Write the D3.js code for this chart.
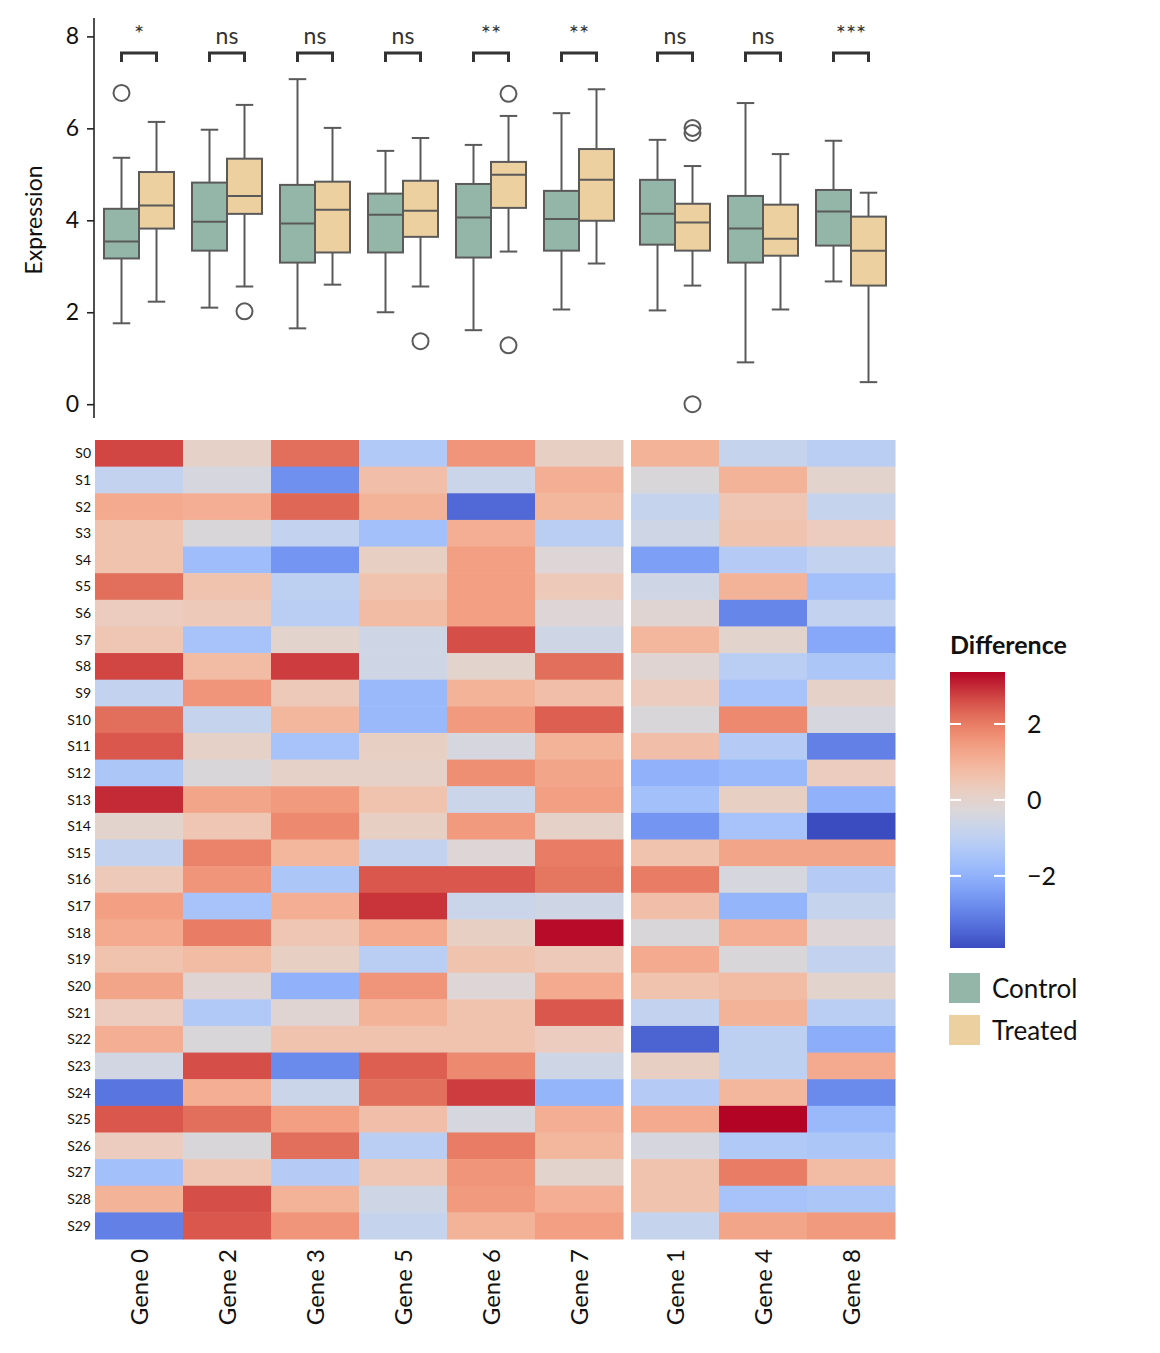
<!DOCTYPE html>
<html><head><meta charset="utf-8">
<script src="https://cdn.jsdelivr.net/npm/d3@7"></script>
<style>body{margin:0;background:#fff}text{font-family:Lato,"Open Sans",sans-serif}</style>
</head><body><svg id="c" width="1160" height="1353"></svg>
<script>
const genes = ["Gene 0","Gene 2","Gene 3","Gene 5","Gene 6","Gene 7","Gene 1","Gene 4","Gene 8"];
const groupA = ["Gene 0","Gene 2","Gene 3","Gene 5","Gene 6","Gene 7"];
const sigLabels = ["*","ns","ns","ns","**","**","ns","ns","***"];
// [low, q1, median, q3, high]
const controlStats = [
 [1.76,3.17,3.54,4.25,5.36],[2.10,3.34,3.97,4.82,5.97],[1.65,3.08,3.93,4.77,7.07],
 [2.00,3.30,4.12,4.58,5.51],[1.61,3.19,4.06,4.79,5.64],[2.06,3.34,4.03,4.64,6.33],
 [2.04,3.47,4.14,4.88,5.75],[0.91,3.08,3.82,4.53,6.55],[2.67,3.45,4.19,4.66,5.73]];
const treatedStats = [
 [2.23,3.82,4.32,5.05,6.14],[2.56,4.14,4.53,5.34,6.51],[2.60,3.30,4.23,4.84,6.01],
 [2.56,3.64,4.21,4.86,5.79],[3.32,4.27,4.99,5.27,6.27],[3.06,3.99,4.88,5.55,6.85],
 [2.58,3.34,3.95,4.36,5.18],[2.06,3.23,3.60,4.34,5.44],[0.48,2.58,3.34,4.08,4.60]];
const controlOutliers = [[6.77],[],[],[],[],[],[],[],[]];
const treatedOutliers = [[],[2.02],[],[1.37],[6.75,1.28],[],[6.01,5.90,0.0],[],[]];
const samples = d3.range(30).map(i=>"S"+i);
const diff = [
 [2.7,0.1,2.2,-1.3,1.6,0.2,1.0,-0.8,-1.1],
 [-0.9,-0.4,-2.7,0.7,-0.7,1.1,-0.3,1.0,0.0],
 [1.2,1.1,2.3,1.0,-3.4,0.9,-0.8,0.5,-0.8],
 [0.6,-0.3,-0.9,-1.6,1.1,-1.1,-0.6,0.6,0.3],
 [0.6,-1.7,-2.6,0.2,1.4,-0.2,-2.4,-1.2,-0.9],
 [2.2,0.6,-1.0,0.6,1.4,0.4,-0.6,1.0,-1.6],
 [0.3,0.4,-1.1,0.8,1.4,-0.2,-0.1,-2.9,-0.9],
 [0.5,-1.5,0.0,-0.6,2.6,-0.6,0.9,0.0,-2.2],
 [2.7,0.8,2.8,-0.6,0.0,2.2,-0.1,-1.1,-1.4],
 [-0.9,1.6,0.4,-1.8,1.0,0.7,0.3,-1.5,0.1],
 [2.2,-0.8,0.9,-1.8,1.5,2.4,-0.3,1.8,-0.4],
 [2.5,0.1,-1.5,0.2,-0.4,1.0,0.7,-1.2,-3.0],
 [-1.4,-0.3,0.1,0.1,1.7,1.3,-2.0,-1.8,0.3],
 [3.0,1.3,1.5,0.6,-0.7,1.4,-1.6,0.2,-2.0],
 [0.0,0.5,1.8,0.2,1.5,0.1,-2.6,-1.5,-3.9],
 [-0.9,1.9,0.9,-0.9,-0.2,2.0,0.6,1.3,1.3],
 [0.4,1.6,-1.4,2.5,2.5,2.1,2.0,-0.4,-1.2],
 [1.4,-1.5,1.1,2.9,-0.7,-0.6,0.7,-1.9,-0.8],
 [1.2,2.0,0.5,1.2,0.2,3.3,-0.3,1.1,-0.2],
 [0.6,0.8,0.2,-1.1,0.6,0.4,1.2,-0.3,-0.9],
 [1.3,-0.1,-2.0,1.6,-0.2,1.2,0.6,0.8,0.0],
 [0.3,-1.3,-0.1,1.0,0.6,2.5,-0.9,1.0,-1.1],
 [1.1,-0.3,0.6,0.6,0.6,0.3,-3.5,-1.0,-2.1],
 [-0.5,2.6,-2.8,2.4,1.8,-0.6,0.2,-1.0,1.2],
 [-3.2,1.1,-0.7,2.2,2.8,-1.9,-1.2,0.9,-2.8],
 [2.5,2.2,1.4,0.7,-0.4,1.1,1.2,3.37,-1.8],
 [0.3,-0.3,2.2,-1.1,2.0,0.9,-0.4,-1.3,-1.4],
 [-1.6,0.5,-1.2,0.5,1.6,0.0,0.6,2.0,0.8],
 [1.0,2.6,1.0,-0.6,1.5,1.1,0.6,-1.5,-1.4],
 [-3.0,2.5,1.6,-0.8,1.0,1.4,-0.8,1.3,1.5]];
const colorDomain = [-3.9, 3.37];
const groupColors = {Control:"#93b6a9", Treated:"#edd09f"};

const svg = d3.select("#c");
const coolwarm = d3.interpolateRgbBasis(["#3b4cc0","#6282ea","#8db0fe","#b7cff9","#dddcdc","#f5c4ac","#f49a7b","#dd604d","#b40426"]);
const color = d3.scaleSequential(coolwarm).domain(colorDomain);

const colW = 88, gap = 8, x0 = 95;
const colX = i => x0 + i*colW + (i>=groupA.length?gap:0);
const center = i => colX(i)+colW/2;

const y = d3.scaleLinear().domain([-0.3,8.4]).range([418,18]);
svg.append("g").attr("transform","translate(94,0)")
 .call(d3.axisLeft(y).tickValues([0,2,4,6,8]).tickSize(7).tickPadding(8))
 .call(g=>{g.select(".domain").attr("stroke","#222").attr("stroke-width",1.6).attr("d","M0,18V418");
   g.selectAll(".tick line").attr("stroke","#222").attr("stroke-width",1.6);
   g.selectAll("text").attr("font-size",23).attr("fill","#111").style("font-family","Lato");});
svg.append("text").attr("transform","translate(42,220) rotate(-90)").attr("text-anchor","middle")
 .attr("font-size",23).attr("fill","#111").text("Expression");

const bw = 35;
function drawBox(cx, s, outs, fill){
  const g = svg.append("g").attr("stroke","#5a5a5a").attr("stroke-width",2);
  g.append("line").attr("x1",cx).attr("x2",cx).attr("y1",y(s[0])).attr("y2",y(s[1]));
  g.append("line").attr("x1",cx).attr("x2",cx).attr("y1",y(s[3])).attr("y2",y(s[4]));
  g.append("line").attr("x1",cx-bw/4).attr("x2",cx+bw/4).attr("y1",y(s[0])).attr("y2",y(s[0]));
  g.append("line").attr("x1",cx-bw/4).attr("x2",cx+bw/4).attr("y1",y(s[4])).attr("y2",y(s[4]));
  g.append("rect").attr("x",cx-bw/2).attr("width",bw).attr("y",y(s[3])).attr("height",y(s[1])-y(s[3])).attr("fill",fill);
  g.append("line").attr("x1",cx-bw/2).attr("x2",cx+bw/2).attr("y1",y(s[2])).attr("y2",y(s[2]));
  outs.forEach(o=>g.append("circle").attr("cx",cx).attr("cy",y(o)).attr("r",8).attr("fill","none"));
}
genes.forEach((gname,i)=>{
  const c = center(i);
  drawBox(c-bw/2, controlStats[i], controlOutliers[i], groupColors.Control);
  drawBox(c+bw/2, treatedStats[i], treatedOutliers[i], groupColors.Treated);
  svg.append("path").attr("d",`M${c-bw/2},62V53H${c+bw/2}V62`).attr("fill","none").attr("stroke","#333").attr("stroke-width",3);
  const ns = sigLabels[i]==="ns";
  svg.append("text").attr("x",c).attr("y",ns?44:42).attr("text-anchor","middle")
    .attr("font-size",ns?23:24).attr("fill","#333").text(sigLabels[i]);
});

const yh = d3.scaleBand().domain(samples).range([440,1239]);
samples.forEach((s,r)=>{
  genes.forEach((g,i)=>{
    svg.append("rect").attr("x",colX(i)).attr("y",yh(s)).attr("width",colW+0.5).attr("height",yh.bandwidth()+0.5)
      .attr("fill",color(diff[r][i]));
  });
  svg.append("text").attr("x",91).attr("y",yh(s)+yh.bandwidth()/2+5).attr("text-anchor","end")
    .attr("font-size",14).attr("fill","#111").text(s);
});
genes.forEach((g,i)=>{
  svg.append("text").attr("transform",`translate(${center(i)+9},1249) rotate(-90)`).attr("text-anchor","end")
    .attr("font-size",24).attr("fill","#111").text(g);
});

const cbX=950, cbW=55, cbTop=672, cbBot=948;
const cy = d3.scaleLinear().domain(colorDomain).range([cbBot,cbTop]);
const defs = svg.append("defs");
const lg = defs.append("linearGradient").attr("id","cb").attr("x1",0).attr("x2",0).attr("y1",1).attr("y2",0);
d3.range(0,1.001,0.05).forEach(t=>lg.append("stop").attr("offset",t).attr("stop-color",coolwarm(t)));
svg.append("rect").attr("x",cbX).attr("y",cbTop).attr("width",cbW).attr("height",cbBot-cbTop).attr("fill","url(#cb)");
[2,0,-2].forEach(v=>{
  svg.append("line").attr("x1",cbX).attr("x2",cbX+11).attr("y1",cy(v)).attr("y2",cy(v)).attr("stroke","#fff").attr("stroke-width",2);
  svg.append("line").attr("x1",cbX+cbW-11).attr("x2",cbX+cbW).attr("y1",cy(v)).attr("y2",cy(v)).attr("stroke","#fff").attr("stroke-width",2);
  svg.append("text").attr("x",1027).attr("y",cy(v)+9).attr("font-size",25).attr("fill","#111").text(v<0?"\u2212"+(-v):v);
});
svg.append("text").attr("x",950).attr("y",654).attr("font-size",25).attr("font-weight","bold").attr("fill","#111").text("Difference");
[["Control",973],["Treated",1015]].forEach(([k,yy])=>{
  svg.append("rect").attr("x",949).attr("y",yy).attr("width",31).attr("height",30).attr("fill",groupColors[k]);
  svg.append("text").attr("x",992).attr("y",yy+25).attr("font-size",26).attr("fill","#111").text(k);
});
</script></body></html>
